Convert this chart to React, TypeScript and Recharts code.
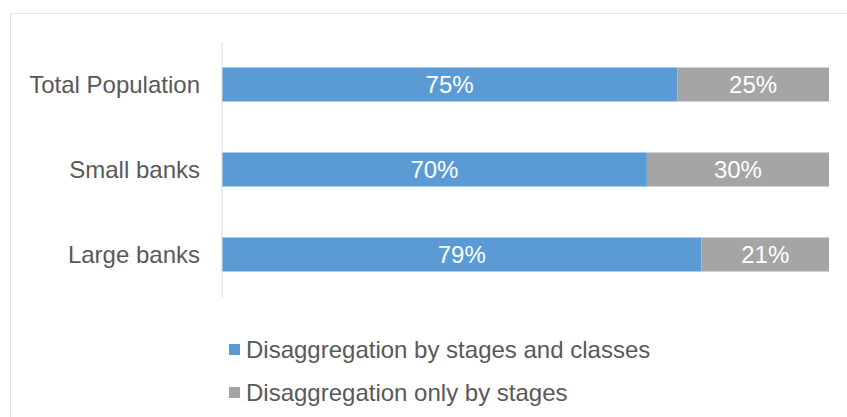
import { BarChart, Bar, XAxis, YAxis, Legend, LabelList } from "recharts"

const categories = ["Total Population", "Small banks", "Large banks"]
const byStagesAndClasses = [75, 70, 79]
const onlyByStages = [25, 30, 21]

const seriesNames = ["Disaggregation by stages and classes", "Disaggregation only by stages"]
const seriesColors = ["#5B9BD5", "#A5A5A5"]

const data = categories.map((name, i) => ({
  name,
  classes: byStagesAndClasses[i],
  stages: onlyByStages[i],
}))

const FONT = "'Liberation Sans', Arial, sans-serif"

// légende empilée verticalement, comme dans l'original
const LegendContent = () => (
  <div style={{ fontFamily: FONT, fontSize: 24, color: "#595959", height: 86 }}>
    {seriesNames.map((label, i) => (
      <div key={label} style={{ display: "flex", alignItems: "center", height: 43 }}>
        <span
          style={{
            display: "inline-block",
            width: 11,
            height: 11,
            background: seriesColors[i],
            marginRight: 6,
          }}
        />
        <span>{label}</span>
      </div>
    ))}
  </div>
)

export default function App() {
  return (
    <div style={{ position: "absolute", left: 0, top: 0, width: 847, height: 417, background: "#fff", overflow: "hidden" }}>
      <div
        style={{
          position: "absolute",
          left: 10,
          top: 13,
          width: 900,
          height: 500,
          borderLeft: "1px solid #e3e3e3",
          borderTop: "1px solid #e3e3e3",
        }}
      />
      <div style={{ position: "absolute", left: 0, top: 0 }}>
        <BarChart
          width={847}
          height={417}
          data={data}
          layout="vertical"
          margin={{ top: 42, right: 18, left: 0, bottom: 34 }}
          barCategoryGap="30%"
        >
          <XAxis type="number" domain={[0, 100]} hide />
          <YAxis
            type="category"
            dataKey="name"
            width={222}
            tickLine={false}
            tickMargin={16}
            axisLine={{ stroke: "#d9d9d9" }}
            tick={{ fill: "#595959", fontSize: 24, fontFamily: FONT }}
          />
          <Legend
            verticalAlign="bottom"
            align="left"
            layout="horizontal"
            content={<LegendContent />}
            wrapperStyle={{ left: 229, top: 328, width: 610 }}
          />
          <Bar dataKey="classes" name={seriesNames[0]} stackId="a" fill={seriesColors[0]} isAnimationActive={false}>
            <LabelList
              dataKey="classes"
              position="center"
              formatter={(v: any) => `${v}%`}
              style={{ fill: "#fff", fontSize: 24, fontFamily: FONT }}
            />
          </Bar>
          <Bar dataKey="stages" name={seriesNames[1]} stackId="a" fill={seriesColors[1]} isAnimationActive={false}>
            <LabelList
              dataKey="stages"
              position="center"
              formatter={(v: any) => `${v}%`}
              style={{ fill: "#fff", fontSize: 24, fontFamily: FONT }}
            />
          </Bar>
        </BarChart>
      </div>
    </div>
  )
}
